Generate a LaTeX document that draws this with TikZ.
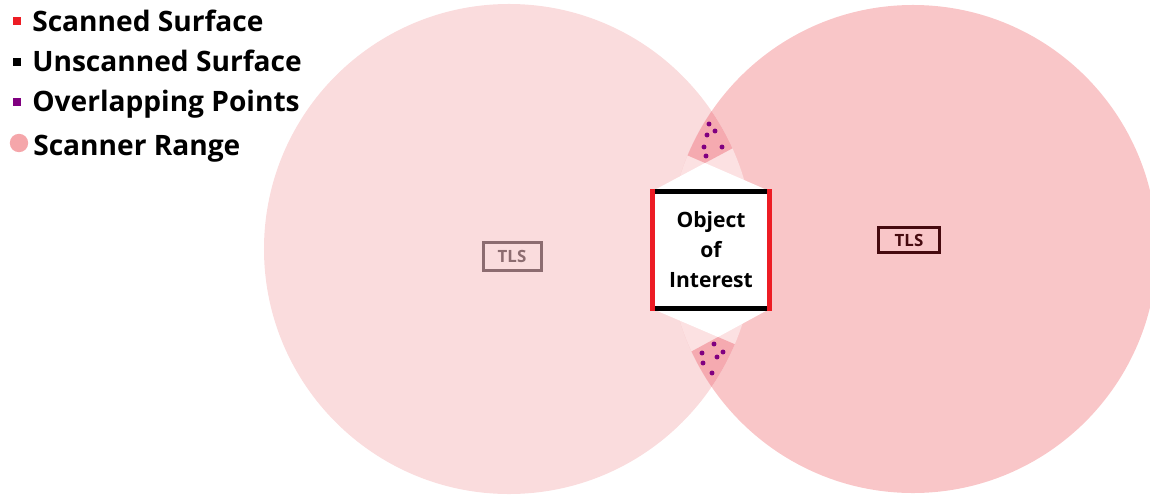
\documentclass[tikz,border=0pt]{standalone}
\usepackage{fontspec}
\setmainfont{Open Sans}
\usetikzlibrary{calc}
\definecolor{rangeleft}{HTML}{FADCDD}
\definecolor{rangeright}{HTML}{F9C6C8}
\definecolor{lenslight}{HTML}{FCE1E2}
\definecolor{overlap}{HTML}{F5AAB0}
\definecolor{scanred}{HTML}{ED1C24}
\definecolor{ovpurple}{HTML}{800080}
\definecolor{keypink}{HTML}{F5A6AA}
\definecolor{tlsgrey}{HTML}{8C6C70}
\definecolor{tlsdark}{HTML}{460A0F}

\begin{document}
\begin{tikzpicture}[x=0.25mm, y=-0.25mm,
  legtext/.style={font=\fontsize{20}{24}\selectfont\bfseries, inner sep=0, anchor=base west},
  keysq/.style={minimum size=2mm, inner sep=0},
  tlsbox/.style={line width=0.75mm, inner sep=0, font=\fontsize{12}{14}\selectfont\bfseries},
  objbox/.style={fill=white, minimum size=29.25mm, inner sep=0, align=center,
                 font=\fontsize{15}{21.3}\selectfont\bfseries},
  face/.style={line width=1.25mm},
  ovpt/.style={fill=ovpurple}]
\clip (0,0) rectangle (1150,494);
% scanner ranges
\fill[rangeleft] (509,249) circle (61.25mm);
\fill[rangeright] (913,249) circle (61mm);
\begin{scope}
  \clip (913,249) circle (61mm);
  \fill[lenslight] (509,249) circle (61.25mm);
\end{scope}
% object and its shadow
\node[objbox] (obj) at (711,250) {Object\\of\\Interest};
\coordinate (apexT) at (705,163);
\coordinate (apexB) at (718,337);
\coordinate (tl) at ($(apexT)!-1.5!(obj.north east)$);
\coordinate (tr) at ($(apexT)!-1.5!(obj.north west)$);
\coordinate (bl) at ($(apexB)!-1.5!(obj.south east)$);
\coordinate (br) at ($(apexB)!-1.5!(obj.south west)$);
\begin{scope}
  \clip (509,249) circle (61.25mm);
  \clip (913,249) circle (61mm);
  \fill[overlap] (tl) -- (apexT) -- (tr) -- ++(0,-100) -| (tl) -- cycle;
  \fill[overlap] (bl) -- (apexB) -- (br) -- ++(0,100) -| (bl) -- cycle;
\end{scope}
\fill[white] (obj.north west) -- (apexT) -- (obj.north east) -- cycle;
\fill[white] (obj.south west) -- (apexB) -- (obj.south east) -- cycle;
\draw[face, black] (obj.north west) -- (obj.north east) (obj.south west) -- (obj.south east);
\draw[face, scanred, line cap=rect] (obj.north west) -- (obj.south west)
  (obj.north east) -- (obj.south east);
% overlapping points
\foreach \x/\y in {709/124, 715/131, 707/135, 704/147, 722/147, 706/156,
                   714/344, 702/353, 723/352, 717/357, 703/363, 712/373}
  \fill[ovpt] (\x,\y) circle (0.62mm);
% scanners
\node[tlsbox, draw=tlsgrey, text=tlsgrey, minimum width=14.5mm, minimum height=7.15mm]
  (tls1) at (512,256.5) {TLS};
\node[tlsbox, draw=tlsdark, text=tlsdark, minimum width=15.2mm, minimum height=6.25mm]
  (tls2) at (909,240) {TLS};
% legend
\foreach \n/\ys/\yb/\c/\t in {scan/21.5/32/scanred/Scanned Surface,
                              unscan/62/72/black/Unscanned Surface,
                              over/102/112/ovpurple/Overlapping Points} {
  \node[keysq, fill=\c] (k\n) at (17,\ys) {};
  \node[legtext] (l\n) at (32,\yb) {\t};
}
\node[circle, fill=keypink, minimum size=4.6mm, inner sep=0] (krange) at (19,143) {};
\node[legtext] (lrange) at (33,155) {Scanner Range};
\end{tikzpicture}
\end{document}
